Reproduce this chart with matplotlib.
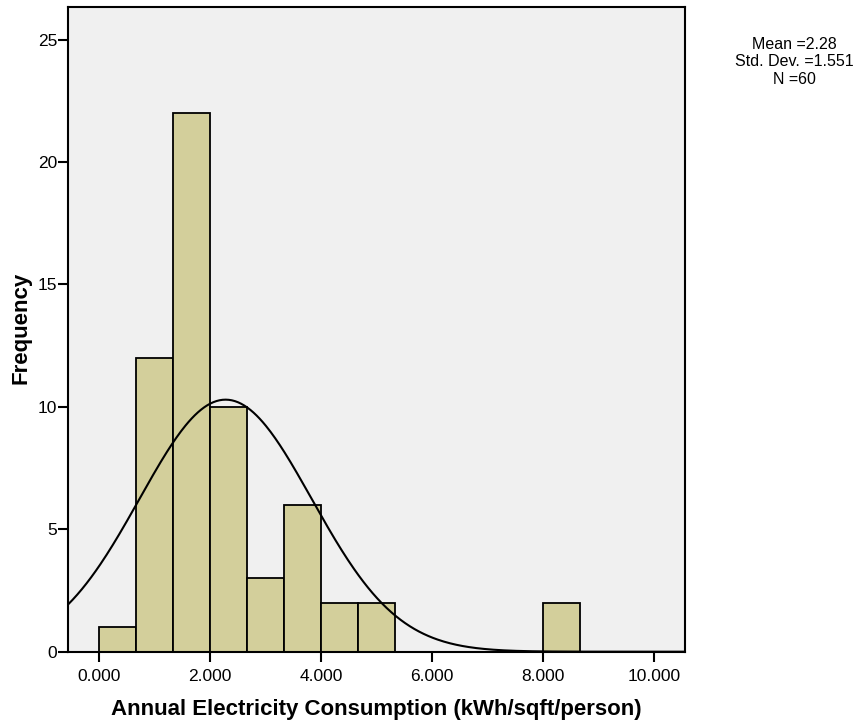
import numpy as np
import matplotlib.pyplot as plt

plt.rcParams['font.family'] = ['Liberation Sans', 'DejaVu Sans']

# Histogram bins (kWh/sqft/person) and counts
bin_edges = [0.0, 0.667, 1.333, 2.0, 2.667, 3.333, 4.0, 4.667, 5.333, 6.0, 6.667, 7.333, 8.0, 8.667]
counts = [1, 12, 22, 10, 3, 6, 2, 2, 0, 0, 0, 0, 2]

# Summary statistics
mean = 2.28
std_dev = 1.551
n = 60

xticks = [0, 2, 4, 6, 8, 10]
xtick_labels = ['0.000', '2.000', '4.000', '6.000', '8.000', '10.000']
yticks = [0, 5, 10, 15, 20, 25]

fig = plt.figure(figsize=(8.58, 7.23), dpi=100)
ax = fig.add_axes([68 / 858, 1 - 651.7 / 723, (685 - 68) / 858, (651.7 - 7) / 723])
ax.set_facecolor('#F0F0F0')

edges = np.array(bin_edges)
widths = np.diff(edges)
ax.bar(edges[:-1], counts, width=widths, align='edge', color='#D3CF9B',
       edgecolor='black', linewidth=1.3, zorder=2)

# Normal curve scaled to counts
xs = np.linspace(-0.56, 10.56, 400)
bw = widths[0]
ys = n * bw * np.exp(-0.5 * ((xs - mean) / std_dev) ** 2) / (std_dev * np.sqrt(2 * np.pi))
ax.plot(xs, ys, color='black', linewidth=1.5, zorder=3)

ax.set_xlim(-0.56, 10.56)
ax.set_ylim(0, 26.33)
ax.set_xticks(xticks)
ax.set_xticklabels(xtick_labels)
ax.set_yticks(yticks)
ax.tick_params(axis='both', direction='out', length=7.3, width=1.5, labelsize=12.5, pad=0.5)
ax.tick_params(axis='x', pad=5)

for s in ax.spines.values():
    s.set_linewidth(1.5)

fig.text(376 / 858, 1 - 710 / 723, 'Annual Electricity Consumption (kWh/sqft/person)',
         ha='center', va='center', fontsize=16, fontweight='bold')
fig.text(21 / 858, 1 - 328 / 723, 'Frequency', rotation=90,
         ha='center', va='center', fontsize=16, fontweight='bold')

fig.text(794 / 858, 1 - 62 / 723, f'Mean ={mean}\nStd. Dev. ={std_dev}\nN ={n}',
         ha='center', va='center', fontsize=11.5, linespacing=1.2)

fig.savefig('out.png', dpi=100)
